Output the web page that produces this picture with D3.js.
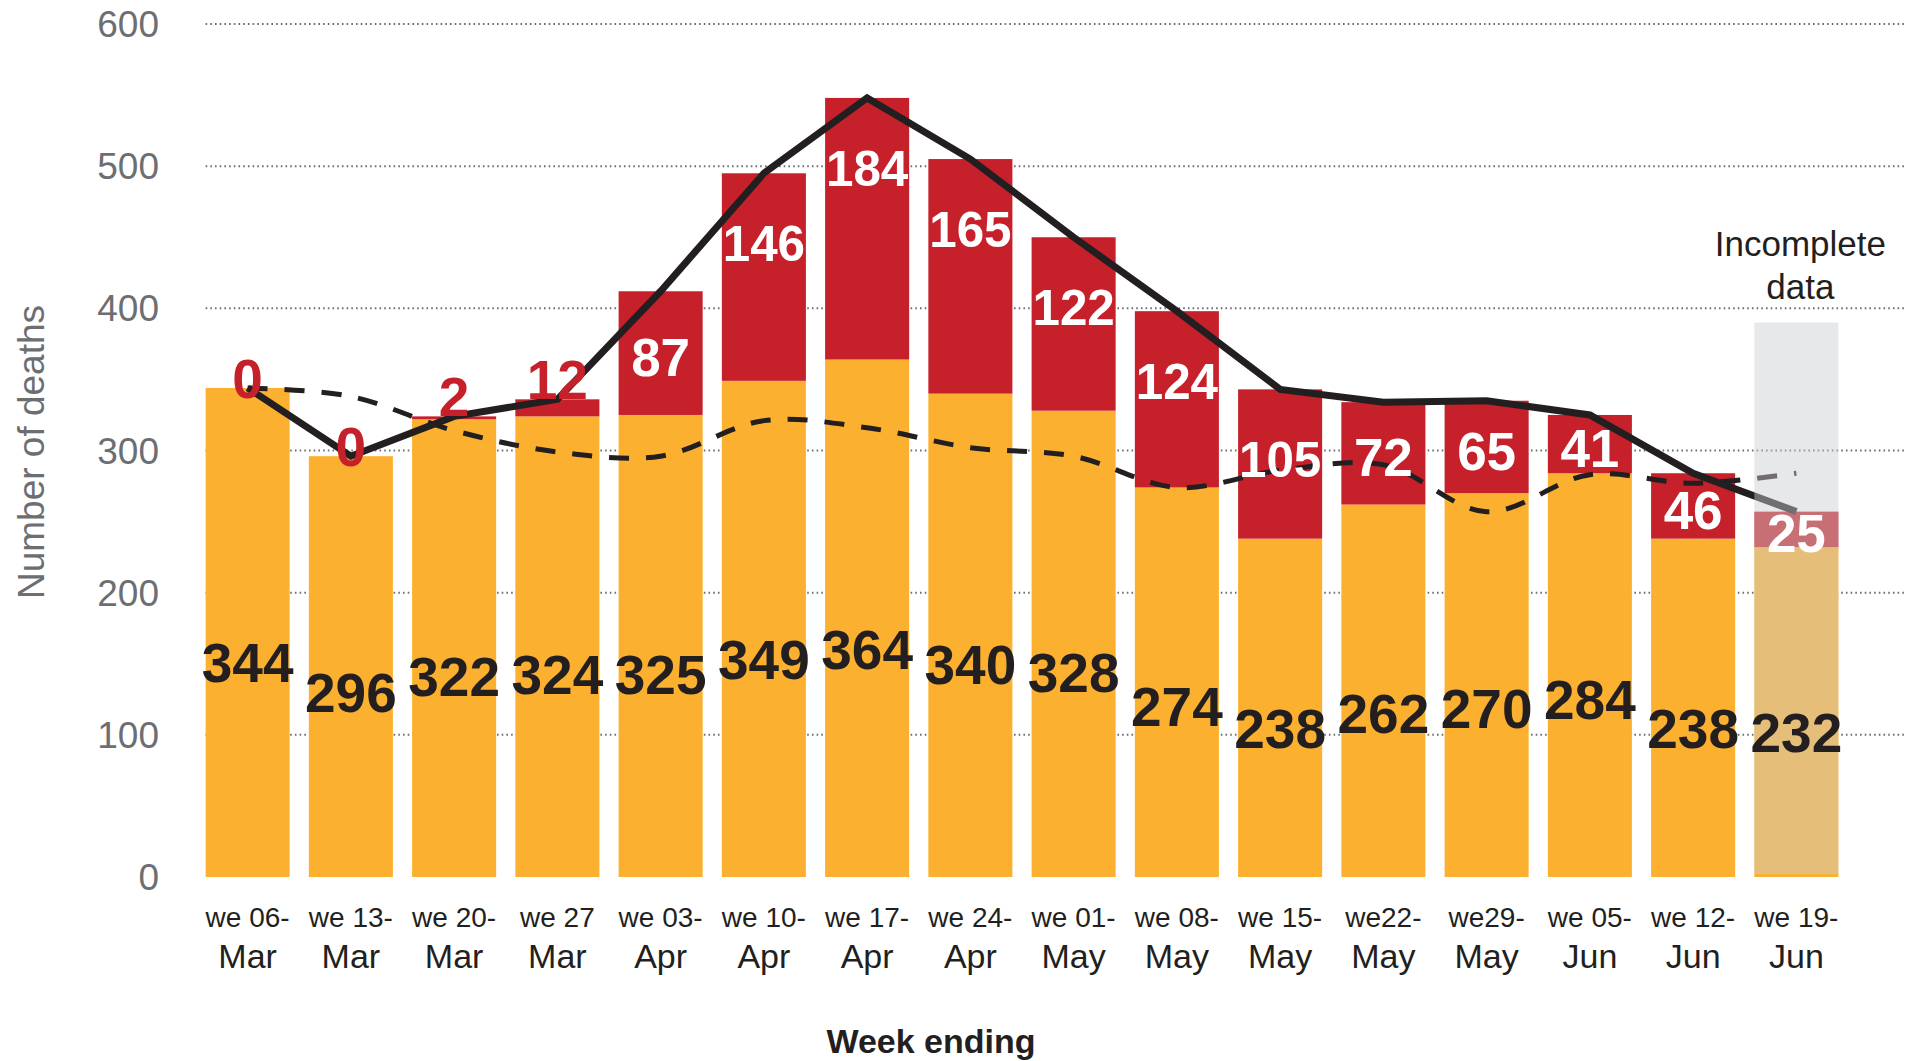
<!DOCTYPE html>
<html>
<head>
<meta charset="utf-8">
<script src="https://cdn.jsdelivr.net/npm/d3@7"></script>
<style>
    html, body { margin: 0; padding: 0; background: #fff; }
    svg { display: block; font-family: "Liberation Sans", Arial, sans-serif; }
</style>
</head>
<body>
<svg id="chart" width="1907" height="1061"></svg>
<script>
var weekTop = ["we 06-", "we 13-", "we 20-", "we 27", "we 03-", "we 10-", "we 17-", "we 24-",
               "we 01-", "we 08-", "we 15-", "we22-", "we29-", "we 05-", "we 12-", "we 19-"];
var weekBottom = ["Mar", "Mar", "Mar", "Mar", "Apr", "Apr", "Apr", "Apr",
                  "May", "May", "May", "May", "May", "Jun", "Jun", "Jun"];
var otherDeaths = [344, 296, 322, 324, 325, 349, 364, 340, 328, 274, 238, 262, 270, 284, 238, 232];
var covidDeaths = [0, 0, 2, 12, 87, 146, 184, 165, 122, 124, 105, 72, 65, 41, 46, 25];
var averageDeaths = [344, 338, 314, 299, 296, 321, 316, 302, 296, 274, 286, 290, 257, 283, 277, 284];
var yTicks = [0, 100, 200, 300, 400, 500, 600];
var incompleteWeek = 15;      // last week, data still coming in
var incompleteTop = 390;      // height of the grey "incomplete" box, in deaths

var orange = "#fbb12f";
var red = "#c6202a";
var ink = "#231f20";
var grey = "#6d6e71";

var svg = d3.select("#chart");
var weeks = weekTop.map(function(d, i) { return i; });
var totals = otherDeaths.map(function(d, i) { return d + covidDeaths[i]; });

var x = d3.scaleBand()
    .domain(weeks)
    .range([196, 1848])
    .paddingInner(0.186)
    .paddingOuter(0.093);
var y = d3.scaleLinear()
    .domain([0, 600])
    .range([877, 24]);
var bw = x.bandwidth();

function cx(i) { return x(i) + bw / 2; }

// dotted grid
svg.append("g")
    .selectAll("line")
    .data(yTicks.filter(function(t) { return t > 0; }))
    .join("line")
    .attr("x1", x(0))
    .attr("x2", 1907)
    .attr("y1", function(t) { return y(t); })
    .attr("y2", function(t) { return y(t); })
    .attr("stroke", "#6d6e71")
    .attr("stroke-width", 2)
    .attr("stroke-dasharray", "1.6,3.1");

// y tick labels
svg.append("g")
    .selectAll("text")
    .data(yTicks)
    .join("text")
    .text(function(t) { return t; })
    .attr("x", 159)
    .attr("y", function(t) { return y(t) + 13; })
    .attr("text-anchor", "end")
    .attr("font-size", 37)
    .attr("fill", grey);

svg.append("text")
    .text("Number of deaths")
    .attr("transform", "translate(44,452) rotate(-90)")
    .attr("text-anchor", "middle")
    .attr("font-size", 37)
    .attr("fill", grey);

// stacked bars
svg.append("g")
    .selectAll("rect")
    .data(weeks)
    .join("rect")
    .attr("x", function(i) { return x(i); })
    .attr("width", bw)
    .attr("y", function(i) { return y(otherDeaths[i]); })
    .attr("height", function(i) { return y(0) - y(otherDeaths[i]); })
    .attr("fill", orange);

svg.append("g")
    .selectAll("rect")
    .data(weeks.filter(function(i) { return covidDeaths[i] > 0; }))
    .join("rect")
    .attr("x", function(i) { return x(i); })
    .attr("width", bw)
    .attr("y", function(i) { return y(totals[i]); })
    .attr("height", function(i) { return y(otherDeaths[i]) - y(totals[i]); })
    .attr("fill", red);

// lines
var totalLine = d3.line()
    .x(function(i) { return cx(i); })
    .y(function(i) { return y(totals[i]); })
    .curve(d3.curveLinear);
var averageLine = d3.line()
    .x(function(i) { return cx(i); })
    .y(function(i) { return y(averageDeaths[i]); })
    .curve(d3.curveCatmullRom.alpha(0.5));

svg.append("path")
    .attr("d", averageLine(weeks))
    .attr("fill", "none")
    .attr("stroke", ink)
    .attr("stroke-width", 5)
    .attr("stroke-dasharray", "20,17");

svg.append("path")
    .attr("d", totalLine(weeks))
    .attr("fill", "none")
    .attr("stroke", ink)
    .attr("stroke-width", 7)
    .attr("stroke-linejoin", "miter");

// grey veil over the incomplete week
svg.append("rect")
    .attr("x", x(incompleteWeek))
    .attr("width", bw)
    .attr("y", y(incompleteTop))
    .attr("height", y(2) - y(incompleteTop))
    .attr("fill", "#caccd1")
    .attr("opacity", 0.46);

svg.append("text")
    .attr("x", cx(incompleteWeek) + 4)
    .attr("text-anchor", "middle")
    .attr("font-size", 35)
    .attr("fill", ink)
    .selectAll("tspan")
    .data(["Incomplete", "data"])
    .join("tspan")
    .attr("x", cx(incompleteWeek) + 4)
    .attr("y", function(d, k) { return y(incompleteTop) - 67 + k * 43; })
    .text(function(d) { return d; });

// value labels
svg.append("g")
    .selectAll("text")
    .data(weeks)
    .join("text")
    .text(function(i) { return otherDeaths[i]; })
    .attr("x", function(i) { return cx(i); })
    .attr("y", function(i) { return y(otherDeaths[i] * 0.44) + 20; })
    .attr("text-anchor", "middle")
    .attr("font-size", 55)
    .attr("font-weight", "bold")
    .attr("fill", ink);

function covidSize(i) {
    var len = String(covidDeaths[i]).length;
    if (covidDeaths[i] < 20) return 55;
    return Math.min(53, bw * 0.98 / (0.556 * len));
}

function covidBaseline(i) {
    var top = y(totals[i]);
    if (covidDeaths[i] < 20) {
        return top + (covidDeaths[i] === 0 ? 10 : 0);
    }
    var h = y(otherDeaths[i]) - top;
    return top + Math.min(h / 2 + 4, 70) + covidSize(i) * 0.36;
}

svg.append("g")
    .selectAll("text")
    .data(weeks)
    .join("text")
    .text(function(i) { return covidDeaths[i]; })
    .attr("x", function(i) { return cx(i); })
    .attr("y", function(i) { return covidBaseline(i); })
    .attr("text-anchor", "middle")
    .attr("font-size", function(i) { return covidSize(i); })
    .attr("font-weight", "bold")
    .attr("fill", function(i) { return covidDeaths[i] < 20 ? red : "#fff"; });

// x axis labels
var xLabels = svg.append("g")
    .selectAll("g")
    .data(weeks)
    .join("g")
    .attr("transform", function(i) { return "translate(" + cx(i) + ",0)"; });

xLabels.append("text")
    .text(function(i) { return weekTop[i]; })
    .attr("y", 927)
    .attr("text-anchor", "middle")
    .attr("font-size", 28)
    .attr("fill", ink);

xLabels.append("text")
    .text(function(i) { return weekBottom[i]; })
    .attr("y", 968)
    .attr("text-anchor", "middle")
    .attr("font-size", 34)
    .attr("fill", ink);

svg.append("text")
    .text("Week ending")
    .attr("x", 931)
    .attr("y", 1053)
    .attr("text-anchor", "middle")
    .attr("font-size", 34)
    .attr("font-weight", "bold")
    .attr("fill", ink);
</script>
</body>
</html>
